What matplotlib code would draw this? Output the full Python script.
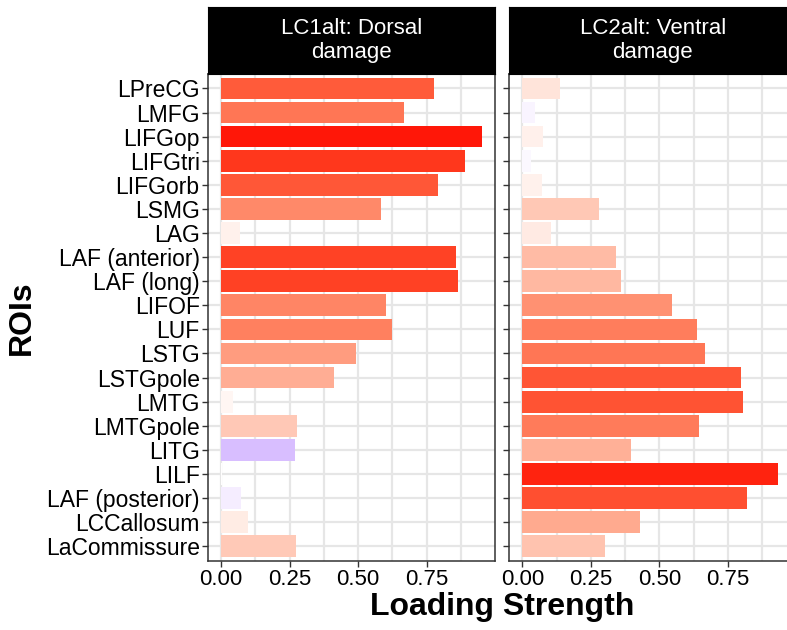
import numpy as np
import matplotlib
matplotlib.use("Agg")
import matplotlib.pyplot as plt
import matplotlib.colors as mcolors

plt.rcParams['font.family'] = ['Liberation Sans', 'DejaVu Sans']

rois = ["LPreCG", "LMFG", "LIFGop", "LIFGtri", "LIFGorb", "LSMG", "LAG",
        "LAF (anterior)", "LAF (long)", "LIFOF", "LUF", "LSTG", "LSTGpole",
        "LMTG", "LMTGpole", "LITG", "LILF", "LAF (posterior)", "LCCallosum",
        "LaCommissure"]

# signed loadings, bar length is the absolute value
dorsal = [0.776, 0.667, 0.951, 0.891, 0.791, 0.585, 0.069, 0.859, 0.864, 0.602,
          0.625, 0.493, 0.411, 0.045, 0.278, -0.269, 0.005, -0.074, 0.099, 0.273]
ventral = [0.138, -0.045, 0.074, -0.030, 0.070, 0.280, 0.106, 0.342, 0.360, 0.545,
           0.636, 0.668, 0.798, 0.805, 0.645, 0.396, 0.933, 0.819, 0.429, 0.303]

titles = ["LC1alt: Dorsal\ndamage", "LC2alt: Ventral\ndamage"]
xticks = [0.0, 0.25, 0.5, 0.75]
xtick_labels = ["0.00", "0.25", "0.50", "0.75"]

WHITE_REF = np.array([0.95047, 1.0, 1.08883])
M = np.array([[0.4124, 0.3576, 0.1805],
              [0.2126, 0.7152, 0.0722],
              [0.0193, 0.1192, 0.9505]])


def to_lab(c):
    rgb = np.array(mcolors.to_rgb(c))
    lin = np.where(rgb <= 0.04045, rgb / 12.92, ((rgb + 0.055) / 1.055) ** 2.4)
    xyz = M @ lin / WHITE_REF
    f = np.where(xyz > 0.008856, np.cbrt(xyz), 7.787 * xyz + 16 / 116)
    return np.array([116 * f[1] - 16, 500 * (f[0] - f[1]), 200 * (f[1] - f[2])])


def from_lab(lab):
    L, a, b = lab
    fy = (L + 16) / 116
    fx = fy + a / 500
    fz = fy - b / 200
    f = np.array([fx, fy, fz])
    xyz = np.where(f ** 3 > 0.008856, f ** 3, (f - 16 / 116) / 7.787) * WHITE_REF
    lin = np.linalg.solve(M, xyz)
    lin = np.clip(lin, 0, 1)
    rgb = np.where(lin <= 0.0031308, 12.92 * lin, 1.055 * lin ** (1 / 2.4) - 0.055)
    return np.clip(rgb, 0, 1)


LAB_W = to_lab("white")
LAB_R = to_lab("red")
LAB_B = to_lab("blue")
LIMIT = 0.97


def fill_colour(v):
    # diverging gradient blue - white - red, interpolated in Lab
    end = LAB_R if v >= 0 else LAB_B
    t = min(abs(v) / LIMIT, 1.0)
    return from_lab(LAB_W + t * (end - LAB_W))


W, H = 787, 630
fig = plt.figure(figsize=(W / 100, H / 100), dpi=100)

panel_w = 286.7
lefts = [208, 509.3]
top, bottom = 74, 560.7
strip_top = 7

y = np.arange(len(rois))
for k, vals in enumerate([dorsal, ventral]):
    ax = fig.add_axes([lefts[k] / W, 1 - bottom / H, panel_w / W, (bottom - top) / H])
    ax.barh(y, np.abs(vals), height=0.9, color=[fill_colour(v) for v in vals], zorder=2)
    ax.set_xlim(-0.0475, 0.9985)
    ax.set_ylim(len(rois) - 0.4, -0.6)
    ax.set_xticks(xticks)
    ax.set_xticks([0.125, 0.375, 0.625, 0.875], minor=True)
    ax.set_xticklabels(xtick_labels)
    ax.set_yticks(y)
    if k == 0:
        ax.set_yticklabels(rois, fontsize=16.5)
    else:
        ax.set_yticklabels([])
        ax.tick_params(axis='y', length=0)
    ax.grid(True, which='major', color='#e6e6e6', lw=1.6, zorder=0)
    ax.grid(True, which='minor', axis='x', color='#e6e6e6', lw=1.6, zorder=0)
    ax.tick_params(axis='x', which='major', labelsize=16)
    ax.tick_params(axis='both', which='major', colors='#333333',
                   labelcolor='black', length=4, width=1, pad=2)
    ax.tick_params(axis='x', which='minor', length=0)
    for s in ax.spines.values():
        s.set_color('#333333')
        s.set_linewidth(1.1)
    ax.set_axisbelow(True)

    sax = fig.add_axes([lefts[k] / W, 1 - top / H, panel_w / W, (top - strip_top) / H])
    sax.set_facecolor('black')
    sax.set_xticks([])
    sax.set_yticks([])
    for s in sax.spines.values():
        s.set_color('black')
    sax.text(0.5, 0.5, titles[k], color='white', fontsize=16, ha='center', va='center',
             linespacing=1.15, transform=sax.transAxes)

fig.text(22 / W, 1 - 318 / H, "ROIs", rotation=90, fontsize=23, fontweight='bold',
         ha='center', va='center')
fig.text(502 / W, 1 - 607 / H, "Loading Strength", fontsize=23, fontweight='bold',
         ha='center', va='center')

fig.savefig("out.png", dpi=100)
